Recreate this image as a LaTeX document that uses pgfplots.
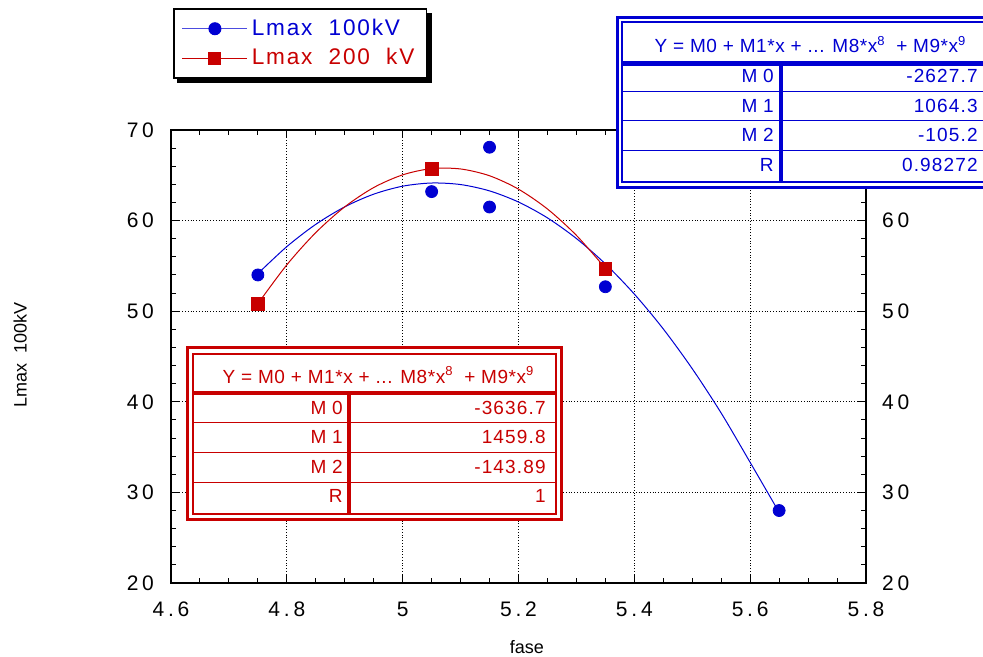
\documentclass[border=0pt]{standalone}
\usepackage{pgfplots}
\pgfplotsset{compat=1.18}
\usepackage{fontspec}
\setmainfont{Liberation Sans}
\newfontfamily\tickfont[LetterSpace=18]{Liberation Sans}
\newfontfamily\tabfont[LetterSpace=6]{Liberation Sans}
\newfontfamily\hdrfont[LetterSpace=3]{Liberation Sans}
\newfontfamily\legfont[LetterSpace=8]{Liberation Sans}
\pgfdeclarelayer{background}
\pgfsetlayers{background,main}
\definecolor{tblue}{RGB}{0,0,210}
\definecolor{tred}{RGB}{200,0,0}
\newcommand{\sups}[1]{\raisebox{0.75ex}{\fontsize{6.5}{7}\selectfont #1}}

\pgfplotstableread{
x y
4.75 54.0
5.05 63.2
5.15 68.1
5.15 61.5
5.35 52.7
5.65 28.0
}\bluepts
\pgfplotstableread{
x y
4.75 50.8
5.05 65.7
5.35 54.7
}\redpts

\begin{document}
\begin{tikzpicture}
\useasboundingbox (0,0) rectangle (491.5pt,-328.5pt);
\begin{axis}[
  at={(85.5pt,-291.5pt)}, anchor=south west,
  scale only axis, width=347.5pt, height=226.5pt,
  xmin=4.6, xmax=5.8, ymin=20, ymax=70,
  xtick={4.6,4.8,5,5.2,5.4,5.6,5.8},
  ytick={20,30,40,50,60,70},
  minor x tick num=3, minor y tick num=4,
  tick align=inside, major tick length=4pt, minor tick length=2.5pt,
  tick style={black, line width=0.5pt},
  grid=major, major grid style={densely dotted, black, line width=0.5pt},
  axis line style={line width=0.9pt},
  /pgf/number format/assume math mode=true,
  tick label style={font=\tickfont\fontsize{10.5}{12}\selectfont},
  xticklabel style={yshift=-6pt},
  yticklabel style={xshift=-5pt},
  xlabel={fase}, ylabel={Lmax\ \ 100kV},
  label style={font=\fontsize{9}{11}\selectfont},
  xlabel style={at={(axis description cs:0.512,-0.141)}, anchor=center},
  ylabel style={at={(axis description cs:-0.217,0.503)}, anchor=center},
  legend style={name=leg, at={(axis description cs:0.003,1.269)}, anchor=north west,
    draw=black, line width=0.9pt, fill=white,
    font=\legfont\fontsize{11.3}{13}\selectfont,
    inner xsep=4pt, inner ysep=3pt, row sep=1pt, cells={anchor=west}},
  legend image code/.code={\draw[mark repeat=2,mark phase=2,#1] plot coordinates {(0cm,0cm)(0.57cm,0cm)(1.14cm,0cm)};},
]
\addplot[tblue, line width=0.5pt, smooth, no markers, forget plot] coordinates {
(4.75,54.15)(4.80,57.13)(4.85,59.59)(4.90,61.52)(4.95,62.92)(5.00,63.80)
(5.05,64.15)(5.10,63.98)(5.15,63.28)(5.20,62.05)(5.25,60.30)(5.30,58.02)
(5.35,55.22)(5.40,51.89)(5.45,48.04)(5.50,43.65)(5.55,38.75)(5.60,33.31)(5.65,27.80)};
\addplot[tred, line width=0.5pt, smooth, no markers, forget plot] coordinates {
(4.75,50.83)(4.80,55.12)(4.85,58.68)(4.90,61.52)(4.95,63.65)(5.00,65.05)
(5.05,65.74)(5.10,65.70)(5.15,64.95)(5.20,63.47)(5.25,61.28)(5.30,58.37)(5.35,54.74)};
\addplot[only marks, mark=*, mark size=3pt, tblue, forget plot] table {\bluepts};
\addplot[only marks, mark=square*, mark size=3.2pt, tred, forget plot] table {\redpts};
\addlegendimage{draw=tblue!70, line width=0.5pt, mark=*, mark size=3pt, mark options={draw=tblue, fill=tblue, line width=0.5pt}}
\addlegendentry{\textcolor{tblue}{Lmax\ \ 100kV}}
\addlegendimage{draw=tred, line width=0.5pt, mark=square*, mark size=3pt, mark options={draw=tred, fill=tred, line width=0.5pt}}
\addlegendentry{\textcolor{tred}{Lmax\ \ 200\ \ kV}}
\end{axis}
\begin{pgfonlayer}{background}
\fill[black] ([shift={(2.2pt,-2.2pt)}]leg.south west) rectangle ([shift={(2.2pt,-2.2pt)}]leg.north east);
\end{pgfonlayer}
\begin{axis}[
  at={(85.5pt,-291.5pt)}, anchor=south west,
  scale only axis, width=347.5pt, height=226.5pt,
  xmin=4.6, xmax=5.8, ymin=20, ymax=70,
  xtick=\empty, ytick={20,30,40,50,60,70},
  yticklabel pos=right,
  axis line style={draw=none}, tick style={draw=none},
  /pgf/number format/assume math mode=true,
  tick label style={font=\tickfont\fontsize{10.5}{12}\selectfont},
  yticklabel style={xshift=4.5pt},
]
\end{axis}
% blue table
\begin{scope}[x=0.5pt,y=-0.5pt, tblue]
\fill[white] (617,17) rectangle (1010,188);
\draw[line width=1.3pt] (617.5,17.5) rectangle (1010,187.5);
\draw[line width=1pt] (622,22.5) rectangle (1003,182);
\draw[line width=2.2pt] (622,63.5) -- (1003,63.5);
\foreach \yy in {92,121,151} \draw[line width=0.5pt] (622,\yy) -- (1003,\yy);
\draw[line width=2.2pt] (781,63.5) -- (781,182);
\node[anchor=base, font=\hdrfont\fontsize{9.5}{11}\selectfont, inner sep=0pt] at (810,53) {Y = M0 + M1*x + ... M8*x\sups{8}\ \ + M9*x\sups{9}};
\begin{scope}[every node/.style={anchor=base east, inner sep=0pt, font=\tabfont\fontsize{9.5}{11}\selectfont}]
\node at (774,83) {M\hspace{0.3em}0}; \node at (978,83) {-2627.7};
\node at (774,113) {M\hspace{0.3em}1}; \node at (978,113) {1064.3};
\node at (774,142) {M\hspace{0.3em}2}; \node at (978,142) {-105.2};
\node at (774,172) {R}; \node at (978,172) {0.98272};
\end{scope}
\end{scope}
% red table
\begin{scope}[x=0.5pt,y=-0.5pt, tred]
\fill[white] (187,347) rectangle (562,520);
\draw[line width=1.3pt] (187.5,347.5) rectangle (561.5,519.5);
\draw[line width=1pt] (192.5,353.5) rectangle (556,514);
\draw[line width=2.2pt] (192.5,393) -- (556,393);
\foreach \yy in {422,452,482} \draw[line width=0.5pt] (192.5,\yy) -- (556,\yy);
\draw[line width=2.2pt] (349,393) -- (349,514);
\node[anchor=base, font=\hdrfont\fontsize{9.5}{11}\selectfont, inner sep=0pt] at (378,383) {Y = M0 + M1*x + ... M8*x\sups{8}\ \ + M9*x\sups{9}};
\begin{scope}[every node/.style={anchor=base east, inner sep=0pt, font=\tabfont\fontsize{9.5}{11}\selectfont}]
\node at (343,414) {M\hspace{0.3em}0}; \node at (546,414) {-3636.7};
\node at (343,443) {M\hspace{0.3em}1}; \node at (546,443) {1459.8};
\node at (343,473) {M\hspace{0.3em}2}; \node at (546,473) {-143.89};
\node at (343,502) {R}; \node at (546,502) {1};
\end{scope}
\end{scope}
\end{tikzpicture}
\end{document}
